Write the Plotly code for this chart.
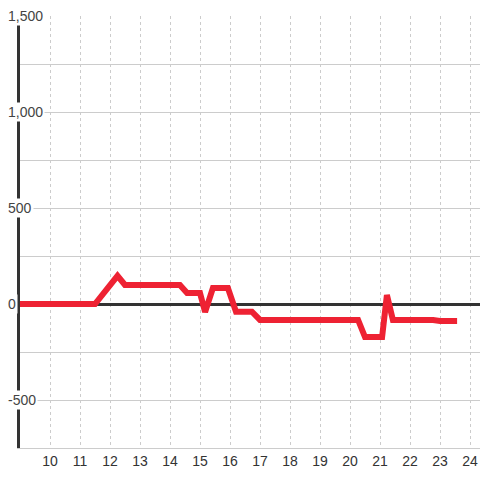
import plotly.graph_objects as go

hours = [9.0, 11.5, 12.25, 12.5, 14.33, 14.57, 15.0, 15.17, 15.43, 15.93, 16.2, 16.73,
         17.0, 20.27, 20.5, 21.07, 21.23, 21.43, 22.77, 23.0, 23.57]
values = [0, 0, 147, 99, 99, 57, 57, -42, 83, 83, -40, -40,
          -83, -83, -172, -172, 47, -83, -83, -88, -88]

x_ticks = list(range(10, 25))
x_tick_labels = [str(v) for v in x_ticks]
y_label_vals = [1500, 1000, 500, 0, -500]
y_label_text = ["1,500", "1,000", "500", "0", "-500"]

fig = go.Figure()
fig.add_trace(go.Scatter(x=hours, y=values, mode="lines",
                         line=dict(color="#EE2233", width=6), hoverinfo="skip"))

for v, t in zip(y_label_vals, y_label_text):
    fig.add_annotation(x=-0.03, xref="paper", y=v, yref="y", text=t, showarrow=False,
                       xanchor="left", yanchor="middle", bgcolor="white", borderpad=1,
                       font=dict(family="Liberation Sans, Arial", size=14, color="#444"))

fig.update_layout(
    width=480, height=480,
    margin=dict(l=20, r=0, t=16, b=32),
    paper_bgcolor="white", plot_bgcolor="white",
    showlegend=False,
    font=dict(family="Liberation Sans, Arial", size=14, color="#333"),
    xaxis=dict(range=[9, 24.3333], tickvals=x_ticks, ticktext=x_tick_labels,
               showgrid=True, gridcolor="#cccccc", griddash="dot", gridwidth=1,
               zeroline=False, showline=True, linecolor="#cccccc", linewidth=1,
               ticks="", tickfont=dict(size=14, color="#333"), fixedrange=True,
               automargin=False),
    yaxis=dict(range=[-750, 1500], tickmode="linear", tick0=0, dtick=250,
               showticklabels=False, showgrid=True, gridcolor="#cccccc", gridwidth=1,
               zeroline=True, zerolinecolor="#333333", zerolinewidth=3,
               showline=True, linecolor="#333333", linewidth=3, layer="below traces",
               ticks="", fixedrange=True, automargin=False),
)

fig.write_html("out.html", config={"displayModeBar": False},
               post_script="document.body.style.margin='0';document.body.style.overflow='hidden';")
